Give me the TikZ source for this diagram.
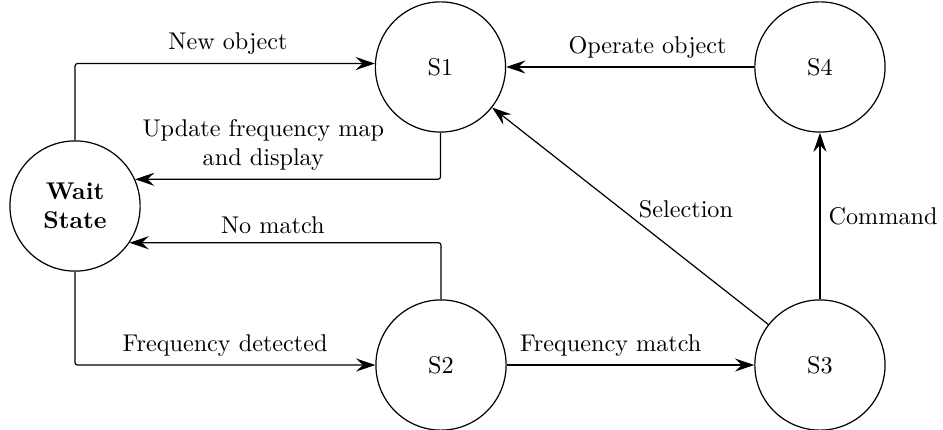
\documentclass[tikz,border=0pt]{standalone}
\usetikzlibrary{arrows.meta}

\begin{document}
\begin{tikzpicture}[
    statenode/.style={circle, draw, line width=0.5pt, minimum size=1.89cm, inner sep=0pt},
    arr/.style={-{Stealth[length=2.8mm, width=1.9mm, inset=1mm]}, line width=0.5pt, rounded corners=1pt}
]
    \useasboundingbox (0, 0) rectangle (13.687, -6.241);

    \node[statenode, align=center, font=\bfseries] (w) at (1.089, -2.990) {Wait\\State};
    \node[statenode] (s1) at (6.393, -0.972) {S1};
    \node[statenode] (s4) at (11.901, -0.972) {S4};
    \node[statenode] (s2) at (6.401, -5.298) {S2};
    \node[statenode] (s3) at (11.901, -5.298) {S3};

    \draw[arr] (w.north) |- node[pos=0.755, above] {New object} (s1.177);
    \draw[arr] (s1.south) |- node[pos=0.79, above, align=center] {Update frequency map\\and display} (w.24);
    \draw[arr] (s2.north) |- node[pos=0.77, above] {No match} (w.-34);
    \draw[arr] (w.south) |- node[pos=0.75, above] {Frequency detected} (s2.west);

    \draw[arr] (s2) -- node[pos=0.42, above] {Frequency match} (s3);
    \draw[arr] (s3) -- node[right] {Command} (s4);
    \draw[arr] (s4) -- node[pos=0.43, above] {Operate object} (s1);
    \draw[arr] (s3) -- node[right, yshift=3pt] {Selection} (s1);
\end{tikzpicture}
\end{document}
